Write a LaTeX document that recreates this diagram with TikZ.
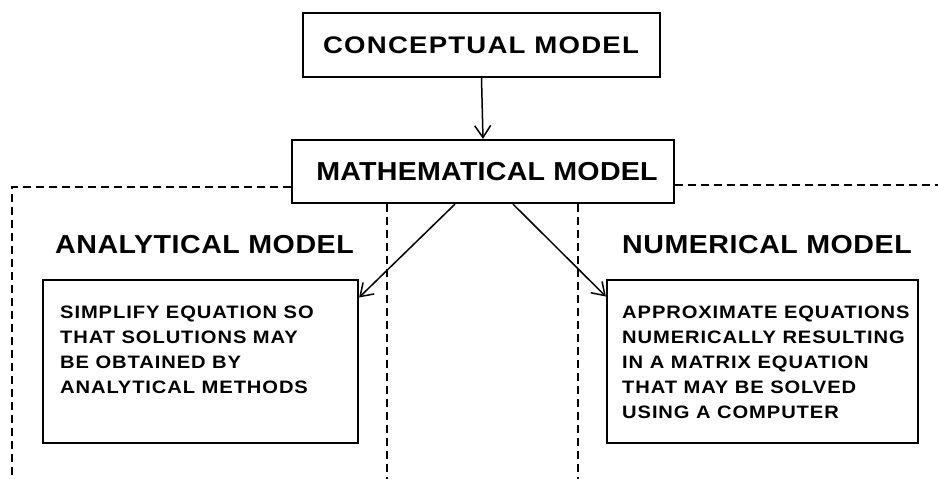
\documentclass[tikz,border=0pt]{standalone}
\usepackage{fontspec}
\setmainfont{Liberation Sans}
\newfontfamily\lsCM[FakeStretch=1.15,LetterSpace=5]{Liberation Sans}
\newfontfamily\lsMM[FakeStretch=1.1,LetterSpace=1]{Liberation Sans}
\newfontfamily\lsT[FakeStretch=1.1,LetterSpace=2]{Liberation Sans}
\newfontfamily\lsB[FakeStretch=1.12,LetterSpace=5]{Liberation Sans}
\usetikzlibrary{arrows.meta}
\begin{document}
\begin{tikzpicture}[x=1pt,y=-1pt,
  box/.style={draw,line width=2.2pt,inner sep=0pt},
  title/.style={font=\lsT\bfseries\fontsize{26}{30}\selectfont},
  body/.style={font=\lsB\bfseries\fontsize{18}{25}\selectfont,align=left,anchor=north west,inner sep=0pt},
  dsh/.style={line width=1.2pt,dash pattern=on 8pt off 5pt},
  arr/.style={line width=1.5pt,-{Straight Barb[length=12pt,width=16pt,line width=1.5pt]}}]
\useasboundingbox (0,0) rectangle (938,479);
% boxes
\node[box,minimum width=357pt,minimum height=64pt] (cm) at (481.5,45) {};
\node[font=\lsCM\bfseries\fontsize{24}{28}\selectfont] (cmt) at (481,45) {CONCEPTUAL MODEL};
\node[box,minimum width=382pt,minimum height=63pt] (mm) at (483,171.5) {};
\node[font=\lsMM\bfseries\fontsize{26}{30}\selectfont] (mmt) at (487,171.5) {MATHEMATICAL MODEL};
\node[box,minimum width=315pt,minimum height=163pt] (ab) at (200.5,361.5) {};
\node[box,minimum width=311pt,minimum height=163pt] (nb) at (762.5,361.5) {};
\node[title,anchor=west,inner sep=0pt] (at) at (55,245) {ANALYTICAL MODEL};
\node[title,anchor=west,inner sep=0pt] (nt) at (622,245) {NUMERICAL MODEL};
\node[body] (abt) at (60,306) {SIMPLIFY EQUATION SO\\THAT SOLUTIONS MAY\\BE OBTAINED BY\\ANALYTICAL METHODS};
\node[body] (nbt) at (622,306) {APPROXIMATE EQUATIONS\\NUMERICALLY RESULTING\\IN A MATRIX EQUATION\\THAT MAY BE SOLVED\\USING A COMPUTER};
% dashed frame
\coordinate (l1) at (12,187);
\coordinate (l2) at (12,479);
\coordinate (m2) at (387,479);
\coordinate (r1) at (938,185);
\coordinate (r2) at (578,479);
\draw[dsh] (mm.west |- l1) -- (l1) -- (l2);
\draw[dsh] (mm.south -| m2) -- (m2);
\draw[dsh] (mm.east |- r1) -- (r1);
\draw[dsh] (mm.south -| r2) -- (r2);
% arrows
\draw[arr] (cm.south) -- (mm.north);
\draw[arr] ([xshift=-28pt]mm.south) -- ([yshift=64pt]ab.east);
\draw[arr] ([xshift=30pt]mm.south) -- ([yshift=65pt]nb.west);
\end{tikzpicture}
\end{document}
